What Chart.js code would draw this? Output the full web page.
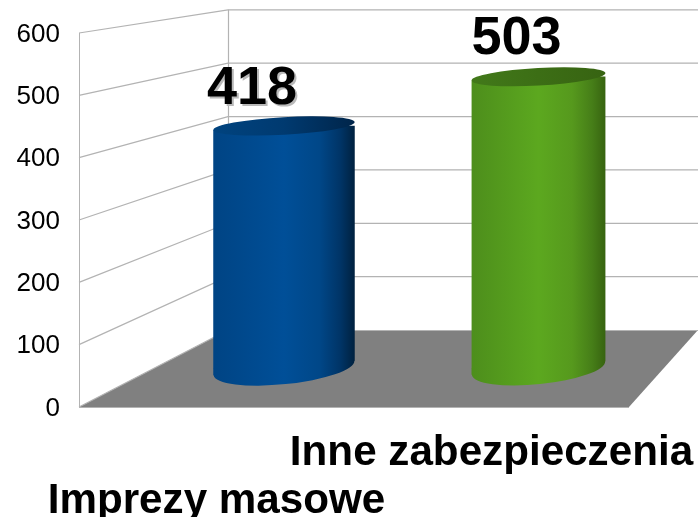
<!DOCTYPE html>
<html lang="pl">
<head>
<meta charset="utf-8">
<style>
html,body{margin:0;padding:0;background:#fff;}
#wrap{position:relative;width:698px;height:517px;}
</style>
<script src="https://cdn.jsdelivr.net/npm/chart.js@4"></script>
</head>
<body>
<div id="wrap"><canvas id="c" width="698" height="517"></canvas></div>
<script>
const categories = ['Imprezy masowe', 'Inne zabezpieczenia'];
const values = [418, 503];
const yTicks = [0, 100, 200, 300, 400, 500, 600];

const FONT = '"Liberation Sans", Arial, sans-serif';
const GRID = '#b3b3b3';
const barWidths = [141.5, 134];
const barStops = [
  [[0,'#004484'],[0.5,'#004f98'],[0.75,'#004788'],[0.9,'#003466'],[1,'#00213f']],
  [[0,'#4d8e1c'],[0.5,'#5ca81f'],[0.75,'#56991d'],[0.9,'#467e18'],[1,'#376310']]
];
const capStops = [
  [[0,'#00437f'],[0.5,'#003a70'],[1,'#00254a']],
  [[0,'#42791a'],[0.5,'#3c6e15'],[1,'#376312']]
];
const labelShift = [-32, -22];
const labelRise = [21.5, 23];
const labelShadow = [true, false];
/* perspective of the box behind the bars */
const DEPTH = {dx: 149, backBottomRise: 77, wallScale: 0.856};
const TILT = {top: -3.2 * Math.PI / 180, bottom: -5.8 * Math.PI / 180, ryTop: 8.8, ryBottom: 16.2};

function gradient(ctx, x0, x1, stops){
  const g = ctx.createLinearGradient(x0, 0, x1, 0);
  stops.forEach(s => g.addColorStop(s[0], s[1]));
  return g;
}

const box3d = {
  id: 'box3d',
  beforeDatasetsDraw(chart){
    const {ctx, chartArea: a, scales: {y}} = chart;
    const bx = a.left + DEPTH.dx, by = a.bottom - DEPTH.backBottomRise;
    const rightX = 698;
    ctx.save();
    ctx.fillStyle = '#808080';
    ctx.beginPath();
    ctx.moveTo(a.left, a.bottom); ctx.lineTo(a.right, a.bottom);
    ctx.lineTo(rightX, by); ctx.lineTo(bx, by); ctx.closePath();
    ctx.fill();
    ctx.strokeStyle = GRID; ctx.lineWidth = 1.2;
    yTicks.forEach(t => {
      const fy = y.getPixelForValue(t);
      const wy = by - (a.bottom - fy) * DEPTH.wallScale;
      ctx.beginPath();
      ctx.moveTo(a.left, fy); ctx.lineTo(bx, wy);
      if (t > 0) ctx.lineTo(rightX, wy);
      ctx.stroke();
    });
    const topY = by - (a.bottom - y.getPixelForValue(600)) * DEPTH.wallScale;
    ctx.beginPath(); ctx.moveTo(bx + .5, topY); ctx.lineTo(bx + .5, by); ctx.stroke();
    ctx.beginPath(); ctx.moveTo(bx, by + .5); ctx.lineTo(rightX, by + .5); ctx.stroke();
    ctx.beginPath(); ctx.moveTo(a.left, a.bottom + .5); ctx.lineTo(a.right, a.bottom + .5); ctx.stroke();
    ctx.restore();
  },
  beforeDatasetDraw(chart, args){
    const ctx = chart.ctx, el = chart.getDatasetMeta(args.index).data[0];
    const half = el.width / 2, st = Math.sin(TILT.top) * half, sb = Math.sin(TILT.bottom) * half;
    ctx.save();
    ctx.beginPath();
    ctx.moveTo(el.x - half, el.y - st);
    ctx.lineTo(el.x + half, el.y + st);
    ctx.lineTo(el.x + half, el.base + sb);
    ctx.lineTo(el.x - half, el.base - sb);
    ctx.closePath();
    ctx.clip();
  },
  afterDatasetDraw(chart, args){
    const ctx = chart.ctx, i = args.index, el = chart.getDatasetMeta(i).data[0];
    ctx.restore();
    const half = el.width / 2, sb = Math.sin(TILT.bottom) * half;
    ctx.save();
    ctx.fillStyle = gradient(ctx, el.x - half, el.x + half, barStops[i]);
    ctx.beginPath();
    ctx.moveTo(el.x - half, el.base);
    ctx.lineTo(el.x + half, el.base + sb);
    ctx.lineTo(el.x - half, el.base - sb);
    ctx.closePath();
    ctx.ellipse(el.x, el.base, half, TILT.ryBottom, TILT.bottom, 0, Math.PI * 2);
    ctx.fill();
    ctx.fillStyle = gradient(ctx, el.x - half, el.x + half, capStops[i]);
    ctx.beginPath();
    ctx.ellipse(el.x, el.y, half, TILT.ryTop, TILT.top, 0, Math.PI * 2);
    ctx.fill();
    ctx.restore();
  },
  afterDatasetsDraw(chart){
    const ctx = chart.ctx;
    ctx.save();
    ctx.font = 'bold 54px ' + FONT;
    ctx.textAlign = 'center';
    ctx.textBaseline = 'alphabetic';
    values.forEach((v, i) => {
      const el = chart.getDatasetMeta(i).data[0];
      const lx = el.x + labelShift[i], ly = el.y - labelRise[i];
      if (labelShadow[i]) {
        ctx.fillStyle = '#b9b9b9';
        ctx.fillText(String(v), lx + 2, ly + 2);
      }
      ctx.fillStyle = '#000';
      ctx.fillText(String(v), lx, ly);
    });
    ctx.restore();
  }
};

new Chart(document.getElementById('c'), {
  type: 'bar',
  plugins: [box3d],
  data: {
    labels: categories,
    datasets: values.map((v, i) => ({
      label: categories[i],
      data: [{x: i, y: v}],
      xAxisID: 'xBar',
      yAxisID: 'yBar',
      grouped: false,
      barThickness: barWidths[i],
      borderWidth: 0,
      backgroundColor(ctx){
        const s = ctx.chart.scales.xBar;
        const cx = s ? s.getPixelForValue(i) : NaN, h = barWidths[i] / 2;
        if (!Number.isFinite(cx)) return barStops[i][1][1];
        return gradient(ctx.chart.ctx, cx - h, cx + h, barStops[i]);
      }
    }))
  },
  options: {
    responsive: false,
    animation: false,
    layout: {padding: {top: 33, right: 69, left: 0, bottom: 0}},
    plugins: {legend: {display: false}, tooltip: {enabled: false}, title: {display: false}},
    scales: {
      x: {
        type: 'category',
        position: 'bottom',
        offset: true,
        grid: {display: false},
        border: {display: false},
        afterFit(s){ s.height = 110; s.paddingLeft = 0; s.paddingRight = 0; },
        ticks: {
          autoSkip: false, maxRotation: 0, minRotation: 0, padding: 15,
          color: '#000',
          font: {family: FONT, size: 42.2, weight: 'bold', lineHeight: 1.12},
          callback(val, idx){ const l = categories[idx]; return idx === 0 ? ['', l] : l; }
        }
      },
      y: {
        type: 'linear',
        position: 'left',
        min: 0, max: 600,
        grid: {display: false},
        border: {display: true, color: GRID, width: 1},
        afterFit(s){ s.width = 79; },
        ticks: {
          stepSize: 100, padding: 11, color: '#000', labelOffset: 1.5,
          font: {family: FONT, size: 26},
        }
      },
      xBar: {type: 'linear', display: false, offset: false, position: 'bottom', min: -0.8055, max: 1.3556},
      yBar: {type: 'linear', display: false, position: 'left', min: -67.36, max: 578.6}
    }
  }
});
</script>
</body>
</html>
